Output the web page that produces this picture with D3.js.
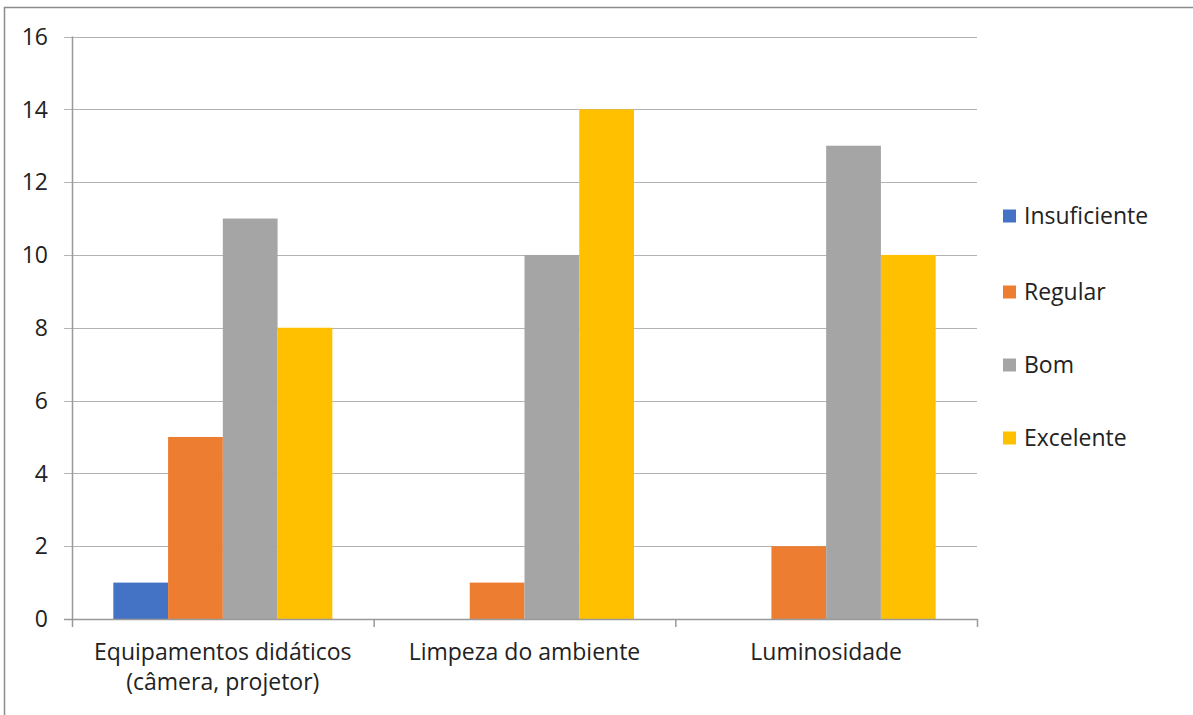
<!DOCTYPE html>
<html><head><meta charset="utf-8">
<script src="https://cdn.jsdelivr.net/npm/d3@7"></script>
<style>body{margin:0;background:#fff;} svg{display:block;}</style>
</head><body>
<svg id="c" width="1193" height="715"></svg>
<script>
const categories = [["Equipamentos didáticos","(câmera, projetor)"],["Limpeza do ambiente"],["Luminosidade"]];
const seriesNames = ["Insuficiente","Regular","Bom","Excelente"];
const insuficiente = [1, 0, 0];
const regular = [5, 1, 2];
const bom = [11, 10, 13];
const excelente = [8, 14, 10];
const yTicks = [0,2,4,6,8,10,12,14,16];
const colors = ["#4472C4","#ED7D31","#A5A5A5","#FFC000"];
const seriesVals = [insuficiente, regular, bom, excelente];

const font = "'Open Sans', sans-serif";
const fs = 23;
const svg = d3.select("#c");
svg.append("rect").attr("x",4.5).attr("y",7.5).attr("width",1200).attr("height",720)
  .attr("fill","#fff").attr("stroke","#8c8c8c").attr("stroke-width",1.5);

const L=72, R=977, T=36.5, B=619;
const x0 = d3.scaleBand().domain(d3.range(categories.length)).range([L,R]).padding(0);
const bw = x0.bandwidth();
const barW = bw/(4+1.51);
const gap = bw - 4*barW;
const x1 = d3.scaleBand().domain(d3.range(4)).range([gap/2, bw-gap/2]).padding(0);
const y = d3.scaleLinear().domain([0,16]).range([B,T]);

svg.append("g").selectAll("line").data(yTicks).join("line")
  .attr("x1",64).attr("x2",R).attr("y1",d=>Math.round(y(d))+0.5).attr("y2",d=>Math.round(y(d))+0.5)
  .attr("stroke","#b3b3b3").attr("stroke-width",1);

const g = svg.append("g");
seriesVals.forEach((vals,si)=>{
  g.selectAll(null).data(vals).join("rect")
    .attr("x",(d,i)=>x0(i)+x1(si)).attr("width",x1.bandwidth())
    .attr("y",d=>y(d)).attr("height",d=>B-y(d)).attr("fill",colors[si]);
});

svg.append("line").attr("x1",L+0.5).attr("x2",L+0.5).attr("y1",T).attr("y2",B+1)
  .attr("stroke","#999").attr("stroke-width",1.5);
svg.append("line").attr("x1",64).attr("x2",R+0.5).attr("y1",B+0.5).attr("y2",B+0.5)
  .attr("stroke","#999").attr("stroke-width",1.5);
const xt = d3.range(categories.length+1).map(i=> i<categories.length ? x0(i) : x0(i-1)+bw);
svg.append("g").selectAll("line").data(xt).join("line")
  .attr("x1",d=>d+0.5).attr("x2",d=>d+0.5).attr("y1",B).attr("y2",B+8)
  .attr("stroke","#999").attr("stroke-width",1.5);

svg.append("g").selectAll("text").data(yTicks).join("text")
  .attr("x",48).attr("y",d=>y(d)).attr("dy","0.36em").attr("text-anchor","end")
  .attr("font-family",font).attr("font-size",fs).attr("fill","#222").text(d=>d);

categories.forEach((lines,i)=>{
  lines.forEach((ln,j)=>{
    svg.append("text").attr("text-anchor","middle").attr("font-family",font)
      .attr("font-size",fs).attr("fill","#222")
      .attr("x",x0(i)+bw/2).attr("y",660+j*30).text(ln);
  });
});

const ly = [216,292,365,438];
const lg = svg.append("g");
seriesNames.forEach((n,i)=>{
  lg.append("rect").attr("x",1003).attr("y",ly[i]-6.5).attr("width",13).attr("height",13).attr("fill",colors[i]);
  lg.append("text").attr("x",1024).attr("y",ly[i]).attr("dy","0.36em").attr("font-family",font)
    .attr("font-size",fs).attr("fill","#222").text(n);
});
</script>
</body></html>
